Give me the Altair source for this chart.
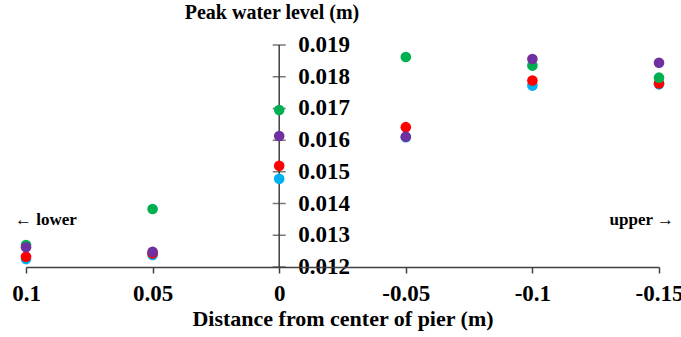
import altair as alt
import pandas as pd

# Data
distance = [0.1, 0.05, 0, -0.05, -0.1, -0.15]
series_names = ["Series 1", "Series 2", "Series 3", "Series 4"]
cyan = [0.01225, 0.01238, 0.01478, 0.01609, 0.01772, 0.01776]
red = [0.01232, 0.01243, 0.01519, 0.01641, 0.01788, 0.01779]
green = [0.01269, 0.01383, 0.01695, 0.01862, 0.01835, 0.01797]
purple = [0.01262, 0.01248, 0.01613, 0.01611, 0.01856, 0.01844]
colors = ["#00B0F0", "#FF0000", "#00B050", "#7030A0"]
y_ticks = [0.012, 0.013, 0.014, 0.015, 0.016, 0.017, 0.018, 0.019]
y_labels = ["0.012", "0.013", "0.014", "0.015", "0.016", "0.017", "0.018", "0.019"]

FONT = "Liberation Serif"
AXIS_COLOR = "#404040"

rows = []
for k, vals in enumerate([cyan, red, green, purple]):
    for d, v in zip(distance, vals):
        rows.append({"series": series_names[k], "d": d, "level": v})
df = pd.DataFrame(rows)

ydf = pd.DataFrame({"v": y_ticks, "label": y_labels, "d": [0.0] * len(y_ticks)})
axdf = pd.DataFrame({"d": [0.0], "y0": [min(y_ticks)], "y1": [max(y_ticks)]})

xscale = alt.Scale(domain=[-0.15, 0.1], reverse=True, nice=False, zero=False)
yscale = alt.Scale(domain=[0.012, 0.019], nice=False, zero=False)

x_axis = alt.Axis(
    values=distance,
    labelExpr="'' + datum.value",
    labelFont=FONT, labelFontSize=23, labelFontWeight="bold", labelColor="black",
    labelFlush=False, labelOverlap=False, labelBound=False,
    tickSize=6, tickColor=AXIS_COLOR, tickWidth=1.5,
    domainColor=AXIS_COLOR, domainWidth=1.5,
    labelPadding=9, grid=False,
    title="Distance from center of pier (m)",
    titleFont=FONT, titleFontSize=22, titleFontWeight="bold", titleColor="black",
    titlePadding=3, zindex=1,
)

def X():
    return alt.X("d:Q", scale=xscale, axis=x_axis)

points = alt.Chart(df).mark_circle(size=113, opacity=1).encode(
    x=X(),
    y=alt.Y("level:Q", scale=yscale, axis=None),
    color=alt.Color("series:N", scale=alt.Scale(domain=series_names, range=colors), legend=None),
)

yrule = alt.Chart(axdf).mark_rule(color=AXIS_COLOR, strokeWidth=1.5).encode(
    x=X(),
    y=alt.Y("y0:Q", scale=yscale, axis=None),
    y2="y1:Q",
)

yticks = alt.Chart(ydf).mark_tick(orient="horizontal", size=13, thickness=1.5, color=AXIS_COLOR).encode(
    x=X(),
    y=alt.Y("v:Q", scale=yscale, axis=None),
)

ylabels = alt.Chart(ydf).mark_text(
    align="left", baseline="middle", dx=19, font=FONT, fontSize=23, fontWeight="bold", color="black"
).encode(
    x=X(),
    y=alt.Y("v:Q", scale=yscale, axis=None),
    text="label:N",
)

one = pd.DataFrame({"a": [0]})
title_txt = alt.Chart(one).mark_text(
    text="Peak water level (m)",
    align="center", baseline="alphabetic", font=FONT, fontSize=20, fontWeight="bold", color="black"
).encode(x=alt.value(246), y=alt.value(-26))

lower_txt = alt.Chart(one).mark_text(
    text="\u2190 lower",
    align="left", baseline="middle", font=FONT, fontSize=17, fontWeight="bold", color="black"
).encode(x=alt.value(-11), y=alt.value(175))

upper_txt = alt.Chart(one).mark_text(
    text="upper \u2192",
    align="right", baseline="middle", font=FONT, fontSize=17, fontWeight="bold", color="black"
).encode(x=alt.value(648), y=alt.value(175))

chart = alt.layer(yrule, yticks, ylabels, points, title_txt, lower_txt, upper_txt).properties(
    width=633, height=222,
    autosize=alt.AutoSizeParams(type="none"),
    padding={"left": 26, "top": 45, "right": 22, "bottom": 70},
    background="white",
).configure_view(stroke=None)

chart.save("out.html", embed_options={"renderer": "svg", "actions": False})
